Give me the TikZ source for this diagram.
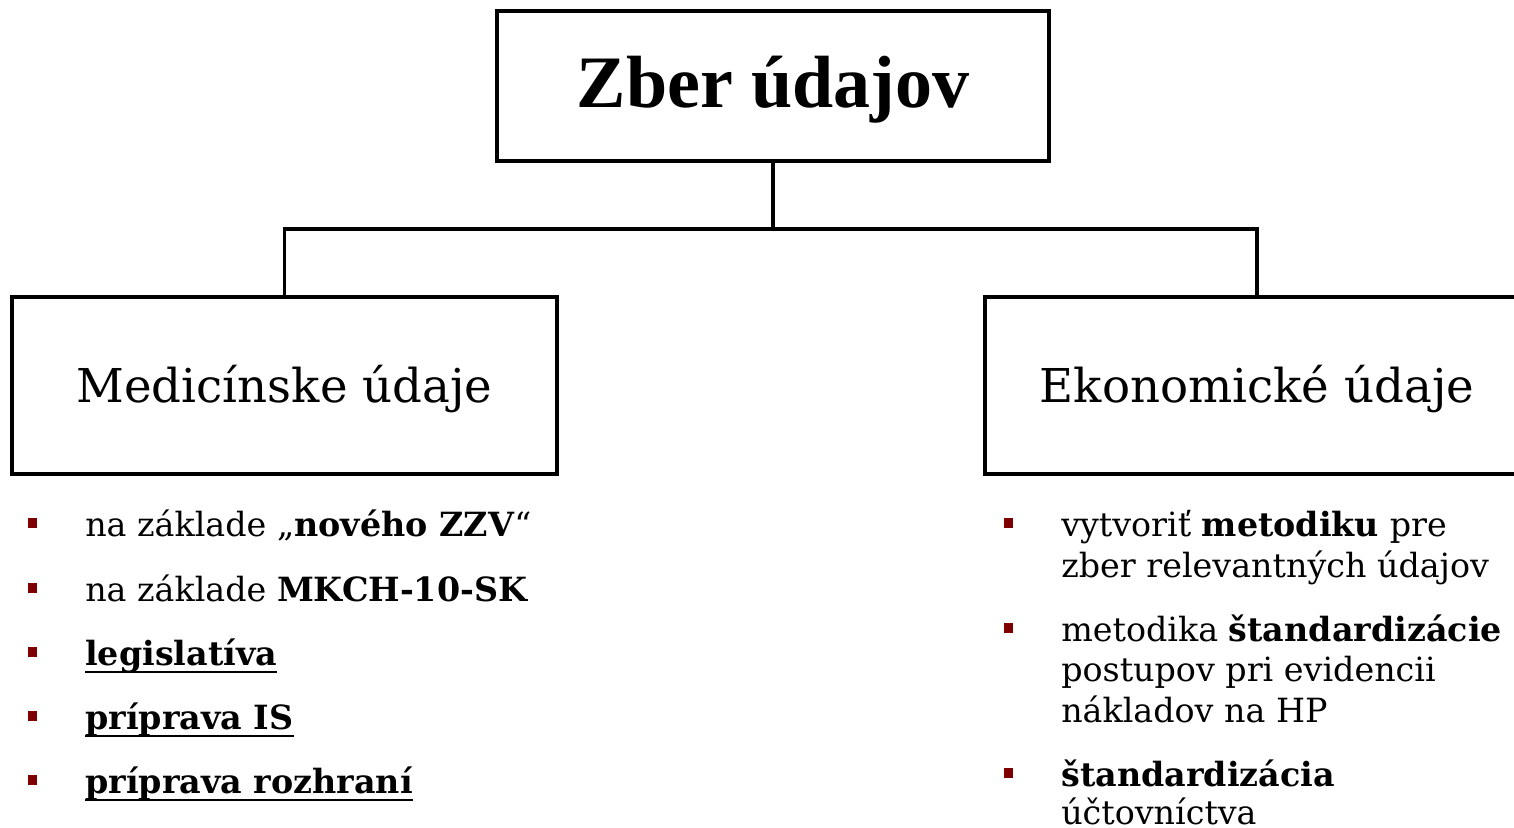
\documentclass[tikz,border=0pt]{standalone}
\usepackage{fontspec}
\setmainfont{DejaVu Serif}
\newfontfamily\titlefont{Liberation Serif}
\definecolor{bulletred}{HTML}{7F0000}
\begin{document}
\begin{tikzpicture}[x=0.75pt,y=-0.75pt,
  box/.style={draw, line width=2.6pt, inner sep=0pt, text depth=0pt},
  conn/.style={line width=2.6pt},
  bulletsq/.style={fill=bulletred, minimum size=7.4pt, inner sep=0pt},
  itemtext/.style={anchor=base west, inner sep=0pt, font=\fontsize{25}{30}\selectfont},
  uline/.style={line width=1.6pt}]
\useasboundingbox (0,0) rectangle (1514,828);
\clip (0,0) rectangle (1514,828);
% boxes
\node[box, minimum width=414pt, minimum height=112.5pt, text height=31.5pt,
      font=\titlefont\bfseries\fontsize{55.5}{60}\selectfont] (top) at (773,86) {Zber údajov};
\node[box, minimum width=408.75pt, minimum height=132.75pt, text height=24.75pt,
      font=\fontsize{35}{40}\selectfont] (med) at (284.5,385.5) {Medicínske údaje};
\node[box, minimum width=408pt, minimum height=132.75pt, text height=24.75pt,
      font=\fontsize{35}{40}\selectfont] (eko) at (1257,385.5) {Ekonomické údaje};
% connectors
\coordinate (split) at (773,229);
\draw[conn] (top.south) -- (split);
\draw[conn] (split) -| (med.north);
\draw[conn] (split) -| (eko.north);
% left list
\node[bulletsq] (lb1) at (32.5,523) {};
\node[bulletsq] (lb2) at (32.5,588) {};
\node[bulletsq] (lb3) at (32.5,652) {};
\node[bulletsq] (lb4) at (32.5,716) {};
\node[bulletsq] (lb5) at (32.5,780) {};
\node[itemtext] (l1) at (85,536) {na základe „\textbf{nového ZZV}“};
\node[itemtext] (l2) at (85,601) {na základe \textbf{MKCH-10-SK}};
\node[itemtext] (l3) at (85,665) {\textbf{legislatíva}};
\node[itemtext] (l4) at (85,729) {\textbf{príprava IS}};
\node[itemtext] (l5) at (85,793) {\textbf{príprava rozhraní}};
\draw[uline] ([yshift=-5pt]l3.base west) -- ([yshift=-5pt]l3.base east);
\draw[uline] ([yshift=-5pt]l4.base west) -- ([yshift=-5pt]l4.base east);
\draw[uline] ([yshift=-5pt]l5.base west) -- ([yshift=-5pt]l5.base east);
% right list
\node[bulletsq] (rb1) at (1008.5,523) {};
\node[bulletsq] (rb2) at (1008.5,628) {};
\node[bulletsq] (rb3) at (1008.5,773) {};
\node[itemtext] (r1a) at (1061,536) {vytvoriť \textbf{metodiku} pre};
\node[itemtext] (r1b) at (1061,577) {zber relevantných údajov};
\node[itemtext] (r2a) at (1061,641) {metodika \textbf{štandardizácie}};
\node[itemtext] (r2b) at (1061,681) {postupov pri evidencii};
\node[itemtext] (r2c) at (1061,722) {nákladov na HP};
\node[itemtext] (r3a) at (1061,786) {\textbf{štandardizácia}};
\node[itemtext] (r3b) at (1061,824) {účtovníctva};
\end{tikzpicture}
\end{document}
